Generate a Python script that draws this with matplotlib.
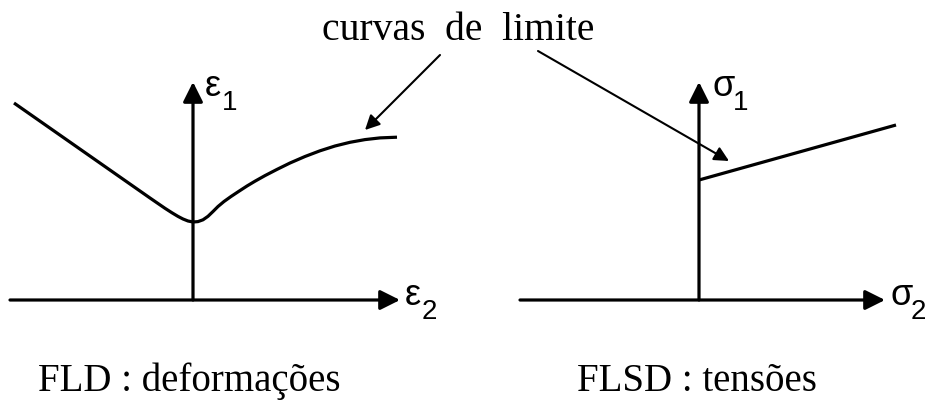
import matplotlib
matplotlib.use('Agg')
import matplotlib.pyplot as plt

# pixel-space readings (x right, y down)
fld_x = [14, 150, 158, 165, 172, 178, 183, 188, 193, 198, 203, 208, 213, 218,
         224, 231, 239, 247, 255, 265, 277, 290, 305, 320, 335, 350, 365, 380, 397]
fld_y = [103, 198, 203.5, 208.3, 212.8, 216.4, 219, 221, 222, 221.6, 219.8, 216.3,
         211.5, 206.5, 201.5, 196.5, 191.2, 186, 181.2, 175.6, 169.4, 163, 156.5,
         150.8, 146, 142.3, 139.6, 137.9, 137.2]

flsd_x = [699, 896]
flsd_y = [180, 125]

axis_y0 = 300
left_origin_x = 193
right_origin_x = 699
axis_top = 82
left_axis_span = (10, 400)
right_axis_span = (520, 885)

callout_text = 'curvas  de  limite'
callout_arrows = [((440, 55), (365, 130)), ((538, 51), (729, 161))]

panel_titles = ['FLD : deformações', 'FLSD : tensões']
title_x = [38, 577]

SERIF = 'Liberation Serif'
SANS = 'Liberation Sans'

fig = plt.figure(figsize=(9.3, 4.01), dpi=100)
ax = fig.add_axes([0, 0, 1, 1])
ax.set_xlim(0, 930)
ax.set_ylim(401, 0)
ax.axis('off')

axis_kw = dict(arrowstyle='-|>', color='black', lw=2.3, mutation_scale=30,
               shrinkA=0, shrinkB=0)

# coordinate axes
for (x0, x1), ox in [(left_axis_span, left_origin_x), (right_axis_span, right_origin_x)]:
    ax.annotate('', xy=(x1, axis_y0), xytext=(x0, axis_y0), arrowprops=axis_kw)
    ax.annotate('', xy=(ox, axis_top), xytext=(ox, axis_y0), arrowprops=axis_kw)

# limit curves
ax.plot(fld_x, fld_y, color='black', lw=2.3, solid_capstyle='butt', solid_joinstyle='round')
ax.plot(flsd_x, flsd_y, color='black', lw=2.3, solid_capstyle='butt')

# callout
ax.text(458, 40, callout_text, family=SERIF, fontsize=28.5, ha='center', va='baseline')
for start, end in callout_arrows:
    ax.annotate('', xy=end, xytext=start,
                arrowprops=dict(arrowstyle='-|>', color='black', lw=1.5,
                                mutation_scale=22, shrinkA=0, shrinkB=0))

# axis symbols (symbol, subscript, x, baseline, subscript offset)
symbols = [('ε', '1', 205, 96, 17), ('ε', '2', 405, 305, 17),
           ('σ', '1', 712, 96, 21), ('σ', '2', 890, 305, 21)]
for sym, sub, x, y, dx in symbols:
    ax.text(x, y, sym, family=SANS, fontsize=26, ha='left', va='baseline')
    ax.text(x + dx, y + 14, sub, family=SANS, fontsize=20, ha='left', va='baseline')

# panel titles
for label, x in zip(panel_titles, title_x):
    ax.text(x, 391, label, family=SERIF, fontsize=28, ha='left', va='baseline')

fig.savefig('out.png', dpi=100)
